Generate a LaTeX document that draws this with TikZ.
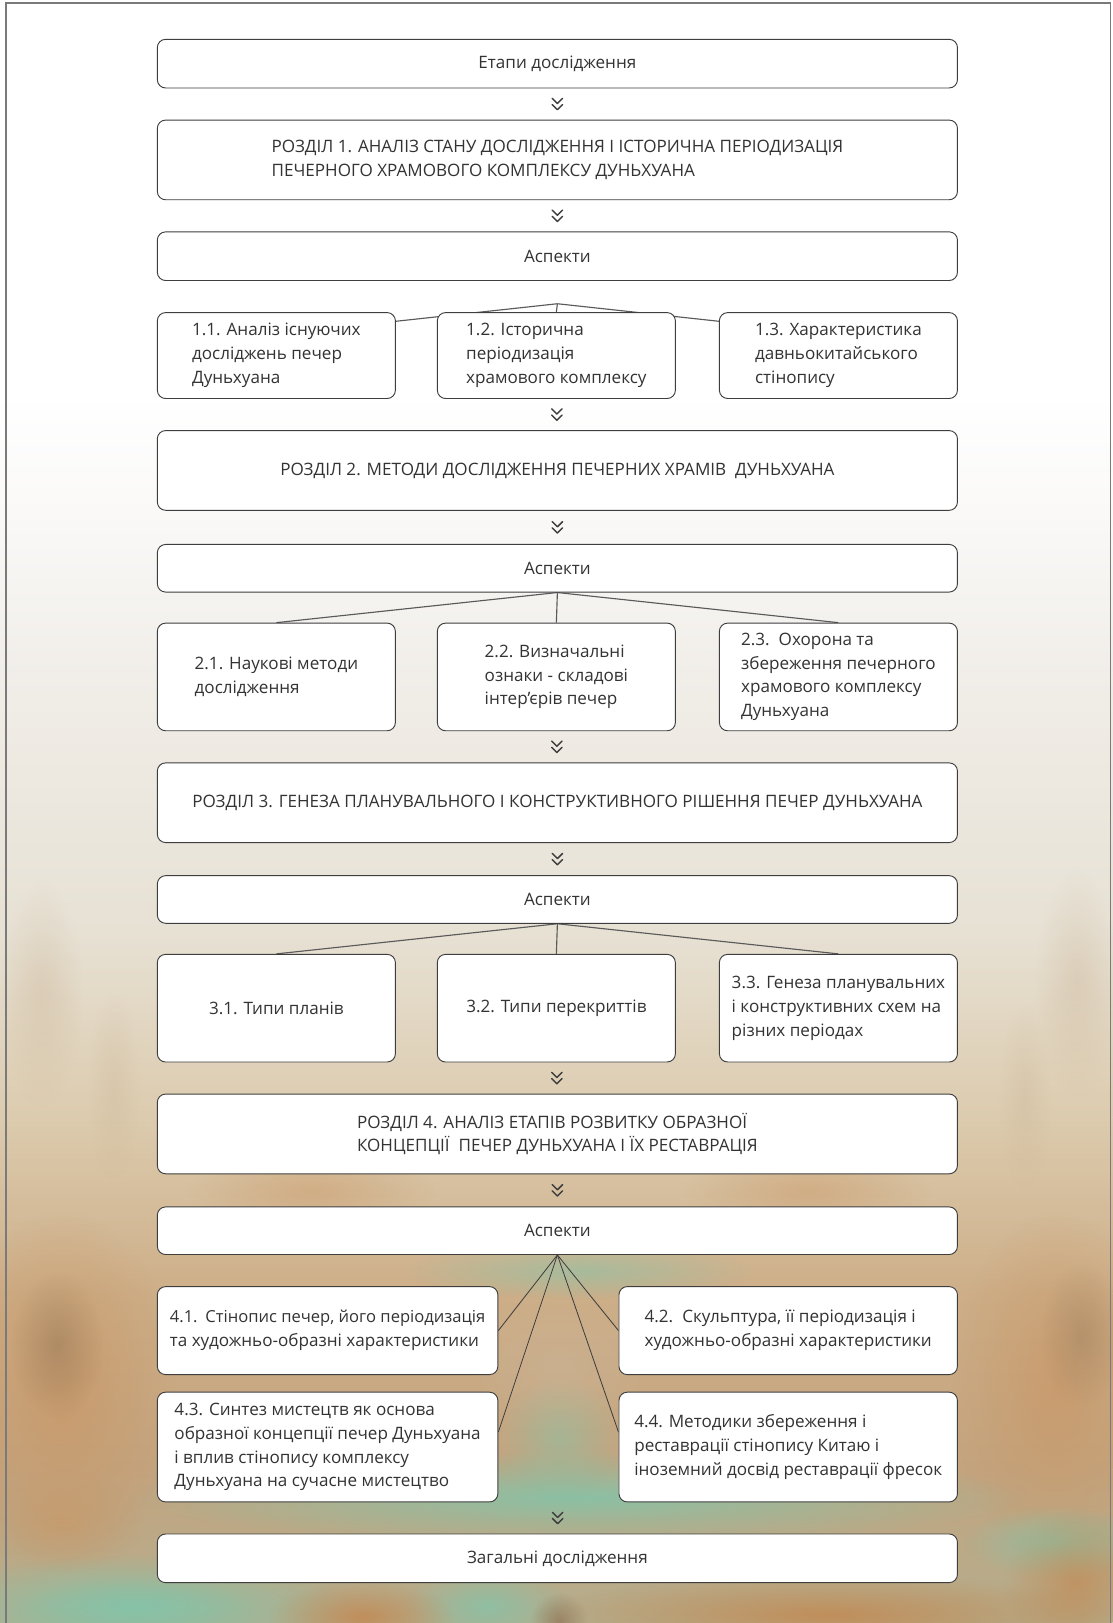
\documentclass[tikz,border=0pt]{standalone}
\usepackage{fontspec}
\setmainfont{Open Sans}
\usetikzlibrary{fadings,calc}
\tikzfading[name=softblob, inner color=transparent!0, outer color=transparent!100]
\definecolor{linec}{HTML}{3E3E3E}
\definecolor{connc}{HTML}{5A5A5A}
\definecolor{textc}{HTML}{333333}
\definecolor{framec}{HTML}{7A7A7A}
\definecolor{g1}{HTML}{FBFAF9}
\definecolor{g2}{HTML}{F1EEE9}
\definecolor{g3}{HTML}{E7E1D4}
\definecolor{g4}{HTML}{DCCBAE}
\definecolor{g5}{HTML}{CDAE88}
\definecolor{g6}{HTML}{C3A47F}
\definecolor{g7}{HTML}{B4AE8E}
\definecolor{teal1}{HTML}{86C3A8}
\definecolor{orng}{HTML}{C4844A}
\definecolor{tan1}{HTML}{C99766}
\definecolor{brwn}{HTML}{8F7455}
\definecolor{lgray}{HTML}{CBB497}
\pgfdeclarelayer{bg}
\pgfdeclarelayer{conn}
\pgfsetlayers{bg,conn,main}
\newcommand\mfont{\fontsize{16.5}{23}\selectfont}
\newcommand\blob[6]{\fill[#1, fill opacity=#6, path fading=softblob] (#2,#3) ellipse [x radius=#4, y radius=#5];}
\tikzset{
  box/.style={draw=linec, fill=white, rounded corners=8pt, line width=0.9pt,
    inner sep=0pt, text=textc, font=\mfont, align=left},
  widebox/.style={box, minimum width=773pt},
  smallbox/.style={box, minimum width=230pt, minimum height=83pt},
  midbox/.style={box, minimum width=230pt, minimum height=104pt},
  conline/.style={draw=connc, line width=1.1pt},
  thinline/.style={draw=linec, line width=0.8pt},
  chevline/.style={draw=linec, line width=1.4pt, line cap=round, line join=round},
  chev/.pic={\draw[chevline] (-5,-5.5)--(0,-0.5)--(5,-5.5); \draw[chevline] (-5,0.5)--(0,5.5)--(5,0.5);}
}
\begin{document}
\begin{tikzpicture}[x=1pt,y=-1pt]
\useasboundingbox (0,0) rectangle (1075,1568);
% ---------- nodes ----------
\node[widebox, minimum height=47pt] (b0) at (538.5,61.5) {Етапи дослідження};
\node[widebox, minimum height=77pt] (r1) at (538.5,154.5) {РОЗДІЛ 1. АНАЛІЗ СТАНУ ДОСЛІДЖЕННЯ І ІСТОРИЧНА ПЕРІОДИЗАЦІЯ\\ПЕЧЕРНОГО ХРАМОВОГО КОМПЛЕКСУ ДУНЬХУАНА};
\node[widebox, minimum height=47pt] (a1) at (538.5,247.5) {Аспекти};
\node[smallbox] (s11) at (267,343.5) {1.1. Аналіз існуючих\\досліджень печер\\Дуньхуана};
\node[smallbox] (s12) at (537.5,343.5) {1.2. Історична\\періодизація\\храмового комплексу};
\node[smallbox] (s13) at (810,343.5) {1.3. Характеристика\\давньокитайського\\стінопису};
\node[widebox, minimum height=77pt] (r2) at (538.5,454.5) {РОЗДІЛ 2. МЕТОДИ ДОСЛІДЖЕННЯ ПЕЧЕРНИХ ХРАМІВ~ ДУНЬХУАНА};
\node[widebox, minimum height=46pt] (a2) at (538.5,549) {Аспекти};
\node[midbox] (s21) at (267,654) {2.1. Наукові методи\\дослідження};
\node[midbox] (s22) at (537.5,654) {2.2. Визначальні\\ознаки - складові\\інтер’єрів печер};
\node[midbox] (s23) at (810,654) {2.3.\hspace{3pt} Охорона та\\збереження печерного\\храмового комплексу\\Дуньхуана};
\node[widebox, minimum height=77pt] (r3) at (538.5,775.5) {РОЗДІЛ 3. ГЕНЕЗА ПЛАНУВАЛЬНОГО І КОНСТРУКТИВНОГО РІШЕННЯ ПЕЧЕР ДУНЬХУАНА};
\node[widebox, minimum height=46pt] (a3) at (538.5,869) {Аспекти};
\node[midbox] (s31) at (267,974) {3.1. Типи планів};
\node[midbox] (s32) at (537.5,974) {3.2. Типи перекриттів};
\node[midbox] (s33) at (810,974) {3.3. Генеза планувальних\\і конструктивних схем на\\різних періодах};
\node[widebox, minimum height=77pt] (r4) at (538.5,1095.5) {РОЗДІЛ 4. АНАЛІЗ ЕТАПІВ РОЗВИТКУ ОБРАЗНОЇ\\КОНЦЕПЦІЇ~ ПЕЧЕР ДУНЬХУАНА І ЇХ РЕСТАВРАЦІЯ};
\node[widebox, minimum height=46pt] (a4) at (538.5,1189) {Аспекти};
\node[box, minimum width=329pt, minimum height=85pt] (s41) at (316.5,1285.5) {\fontsize{16}{23}\selectfont 4.1.\hspace{2pt} Стінопис печер, його періодизація\\та художньо-образні характеристики};
\node[box, minimum width=327pt, minimum height=85pt] (s42) at (761.5,1285.5) {4.2.\hspace{3pt} Скульптура, її періодизація і\\художньо-образні характеристики};
\node[box, minimum width=329pt, minimum height=106pt] (s43) at (316.5,1398) {4.3. Синтез мистецтв як основа\\образної концепції печер Дуньхуана\\і вплив стінопису комплексу\\Дуньхуана на сучасне мистецтво};
\node[box, minimum width=327pt, minimum height=106pt] (s44) at (761.5,1398) {4.4. Методики збереження і\\реставрації стінопису Китаю і\\іноземний досвід реставрації фресок};
\node[widebox, minimum height=47pt] (g) at (538.5,1505.5) {Загальні дослідження};
% ---------- chevrons ----------
\path (b0.south) -- (r1.north) coordinate[midway] (v1);
\path (r1.south) -- (a1.north) coordinate[midway] (v2);
\path (s12.south) -- (r2.north) coordinate[midway] (v3);
\path (r2.south) -- (a2.north) coordinate[midway] (v4);
\path (s22.south) -- (r3.north) coordinate[midway] (v5);
\path (r3.south) -- (a3.north) coordinate[midway] (v6);
\path (s32.south) -- (r4.north) coordinate[midway] (v7);
\path (r4.south) -- (a4.north) coordinate[midway] (v8);
\path ($(s43.south)!0.5!(s44.south)$) -- (g.north) coordinate[midway] (v9);
\foreach \v in {v1,v2,v3,v4,v5,v6,v7,v8,v9} {\pic at (\v) {chev};}
% ---------- connectors ----------
\begin{pgfonlayer}{conn}
\coordinate (j1) at ($(a1.south)+(0,22)$);
\draw[conline] (j1) -- (s11.16);
\draw[conline] (j1) -- (s13.164);
\draw[conline] (j1) -- (s12.north);
\draw[conline] (a2.south) -- (s21.north);
\draw[conline] (a2.south) -- (s22.north);
\draw[conline] (a2.south) -- (s23.north);
\draw[conline] (a3.south) -- (s31.north);
\draw[conline] (a3.south) -- (s32.north);
\draw[conline] (a3.south) -- (s33.north);
\draw[thinline] (a4.south) -- (s41.east);
\draw[thinline] (a4.south) -- (s42.west);
\draw[thinline] (a4.south) -- (s43.5);
\draw[thinline] (a4.south) -- (s44.175);
\end{pgfonlayer}
% ---------- background ----------
\begin{pgfonlayer}{bg}
\fill[white] (0,0) rectangle (1075,380);
\shade[top color=white, bottom color=g1] (0,380) rectangle (1075,480);
\shade[top color=g1, bottom color=g2] (0,479.5) rectangle (1075,650);
\shade[top color=g2, bottom color=g3] (0,649.5) rectangle (1075,900);
\shade[top color=g3, bottom color=g4] (0,899.5) rectangle (1075,1080);
\shade[top color=g4, bottom color=g5] (0,1079.5) rectangle (1075,1250);
\shade[top color=g5, bottom color=g6] (0,1249.5) rectangle (1075,1420);
\shade[top color=g6, bottom color=g7] (0,1419.5) rectangle (1075,1568);
% faint streaks in the middle band
\blob{lgray}{40}{960}{40}{110}{0.35}
\blob{lgray}{1040}{950}{40}{110}{0.35}
\blob{lgray}{110}{1050}{25}{90}{0.3}
\blob{lgray}{990}{1060}{25}{90}{0.3}
% lower photo-like patches
\blob{teal1}{560}{1228}{170}{28}{0.55}
\blob{tan1}{60}{1340}{110}{170}{0.75}
\blob{tan1}{1020}{1340}{100}{170}{0.7}
\blob{brwn}{55}{1300}{45}{70}{0.45}
\blob{brwn}{1045}{1290}{40}{70}{0.35}
\blob{lgray}{540}{1320}{90}{70}{0.6}
\blob{teal1}{560}{1447}{430}{45}{0.9}
\blob{teal1}{540}{1390}{60}{60}{0.5}
\blob{teal1}{1020}{1490}{90}{35}{0.7}
\blob{teal1}{130}{1552}{210}{50}{0.95}
\blob{teal1}{130}{1555}{120}{30}{0.6}
\blob{teal1}{470}{1552}{80}{40}{0.8}
\blob{orng}{350}{1562}{90}{35}{0.75}
\blob{orng}{800}{1560}{280}{40}{0.75}
\blob{orng}{1040}{1530}{70}{70}{0.6}
\blob{tan1}{60}{1470}{80}{50}{0.6}
\blob{brwn}{540}{1566}{28}{28}{0.7}
\blob{orng}{300}{1150}{120}{40}{0.3}
\blob{orng}{780}{1150}{120}{40}{0.3}
\draw[framec, line width=1.3pt] (5.8,1580) -- (5.8,3) -- (1073,3) -- (1073,1580);
\end{pgfonlayer}
\end{tikzpicture}
\end{document}
